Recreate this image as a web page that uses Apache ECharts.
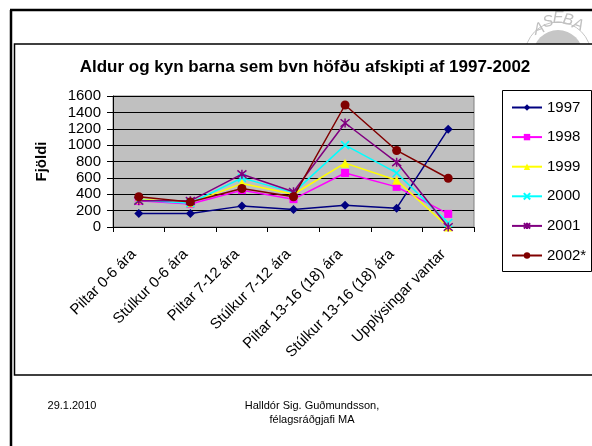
<!DOCTYPE html>
<html><head><meta charset="utf-8">
<script src="https://cdn.jsdelivr.net/npm/echarts@6/dist/echarts.min.js"></script>
<style>html,body{margin:0;padding:0;background:#fff}#c{width:592px;height:446px}</style>
</head><body><div id="c"></div>
<script>
const categories = ['Piltar 0-6 ára','Stúlkur 0-6 ára','Piltar 7-12 ára','Stúlkur 7-12 ára','Piltar 13-16 (18) ára','Stúlkur 13-16 (18) ára','Upplýsingar vantar'];
const y1997 = [165, 165, 255, 215, 265, 230, 1195];
const y1998 = [320, 280, 450, 340, 660, 490, 160];
const y1999 = [340, 295, 530, 400, 780, 570, 0];
const y2000 = [330, 290, 600, 420, 1000, 660, 50];
const y2001 = [320, 320, 645, 430, 1270, 790, 0];
const y2002 = [370, 305, 470, 370, 1490, 935, 595];
const seriesNames = ['1997','1998','1999','2000','2001','2002*'];
const yTicks = [0, 200, 400, 600, 800, 1000, 1200, 1400, 1600];

const FONT = 'Liberation Sans, Arial, sans-serif';
const colors = ['#000080','#FF00FF','#FFFF00','#00FFFF','#800080','#800000'];
const symbols = ['diamond','rect','triangle','path://M0,0L10,10M10,0L0,10','path://M0,0L10,10M10,0L0,10M5,-1L5,11','circle'];
const sizes = [9, 8, 9, 8, 9, 9];
const allData = [y1997, y1998, y1999, y2000, y2001, y2002];

const series = allData.map((d, i) => ({
  name: seriesNames[i],
  type: 'line',
  data: d,
  symbol: symbols[i],
  symbolSize: sizes[i],
  showAllSymbol: true,
  lineStyle: {color: colors[i], width: 1.5},
  itemStyle: {color: colors[i], borderColor: colors[i], borderWidth: (i === 3 || i === 4) ? 1.5 : 0},
  emphasis: {disabled: true},
  animation: false,
  z: 2 + i
}));

const chart = echarts.init(document.getElementById('c'));
chart.setOption({
  animation: false,
  backgroundColor: '#fff',
  textStyle: {fontFamily: FONT},
  graphic: [
    {type: 'circle', shape: {cx: 558, cy: 55, r: 25}, style: {fill: '#c6c6c6'}, z: -10},
    {type: 'circle', shape: {cx: 558, cy: 55, r: 33}, style: {fill: 'none', stroke: '#c6c6c6', lineWidth: 1}, z: -10},
    {type: 'text', x: 539, y: 29, rotation: 0.35, style: {text: 'A', font: 'italic 16px ' + FONT, fill: '#c0c0c0', textAlign: 'center', textVerticalAlign: 'middle'}, z: -10},
    {type: 'text', x: 548, y: 22, rotation: 0.18, style: {text: 'S', font: 'italic 16px ' + FONT, fill: '#c0c0c0', textAlign: 'center', textVerticalAlign: 'middle'}, z: -10},
    {type: 'text', x: 558, y: 19, rotation: 0.0, style: {text: 'E', font: 'italic 16px ' + FONT, fill: '#c0c0c0', textAlign: 'center', textVerticalAlign: 'middle'}, z: -10},
    {type: 'text', x: 568, y: 20, rotation: -0.18, style: {text: 'B', font: 'italic 16px ' + FONT, fill: '#c0c0c0', textAlign: 'center', textVerticalAlign: 'middle'}, z: -10},
    {type: 'text', x: 578, y: 25, rotation: -0.35, style: {text: 'A', font: 'italic 16px ' + FONT, fill: '#c0c0c0', textAlign: 'center', textVerticalAlign: 'middle'}, z: -10},
    {type: 'rect', shape: {x: 14.5, y: 44, width: 600, height: 331}, style: {fill: '#fff', stroke: '#000', lineWidth: 1.5}, z: -5},
    {type: 'line', shape: {x1: 11, y1: 10, x2: 11, y2: 446}, style: {stroke: '#000', lineWidth: 2.5}, z: -4},
    {type: 'line', shape: {x1: 10, y1: 10, x2: 592, y2: 10}, style: {stroke: '#000', lineWidth: 2.5}, z: -4},
    {type: 'rect', shape: {x: 502.5, y: 90.5, width: 89, height: 181}, style: {fill: '#fff', stroke: '#000', lineWidth: 1}, z: -1},
    {type: 'text', x: 305, y: 67, style: {text: 'Aldur og kyn barna sem bvn höfðu afskipti af 1997-2002', font: 'bold 17px ' + FONT, fill: '#000', textAlign: 'center', textVerticalAlign: 'middle'}},
    {type: 'text', x: 72, y: 406, style: {text: '29.1.2010', font: '11px ' + FONT, fill: '#000', textAlign: 'center', textVerticalAlign: 'middle'}},
    {type: 'text', x: 312, y: 406, style: {text: 'Halldór Sig. Guðmundsson,', font: '11px ' + FONT, fill: '#000', textAlign: 'center', textVerticalAlign: 'middle'}},
    {type: 'text', x: 312, y: 420, style: {text: 'félagsráðgjafi MA', font: '11px ' + FONT, fill: '#000', textAlign: 'center', textVerticalAlign: 'middle'}}
  ],
  grid: {left: 113, right: 118, top: 96, bottom: 219, show: true, backgroundColor: '#C0C0C0', borderColor: '#808080', borderWidth: 1},
  legend: {
    orient: 'vertical', left: 502, top: 90,
    padding: [10, 6, 9, 9],
    itemWidth: 30, itemHeight: 8, itemGap: 14.6,
    textStyle: {fontSize: 15, lineHeight: 15, color: '#000', fontFamily: FONT, padding: [0, 0, 0, 0]},
    data: seriesNames
  },
  xAxis: {
    type: 'category', data: categories, boundaryGap: true,
    axisLine: {lineStyle: {color: '#000', width: 1}},
    axisTick: {show: true, length: 5, lineStyle: {color: '#000'}},
    axisLabel: {rotate: 45, margin: 20, fontSize: 15, color: '#000', fontFamily: FONT, interval: 0, padding: [0, 7, 0, 0]}
  },
  yAxis: {
    type: 'value', min: 0, max: 1600, interval: 200,
    name: 'Fjöldi', nameLocation: 'middle', nameRotate: 90, nameGap: 64,
    nameTextStyle: {fontSize: 15, fontWeight: 'bold', color: '#000', fontFamily: FONT},
    axisLine: {show: true, lineStyle: {color: '#000', width: 1}},
    axisTick: {show: true, length: 6, lineStyle: {color: '#000'}},
    axisLabel: {margin: 12, fontSize: 15, color: '#000', fontFamily: FONT, formatter: v => yTicks.includes(v) ? String(v) : ''},
    splitLine: {show: true, lineStyle: {color: '#000', width: 1}}
  },
  series: series
});
</script></body></html>
